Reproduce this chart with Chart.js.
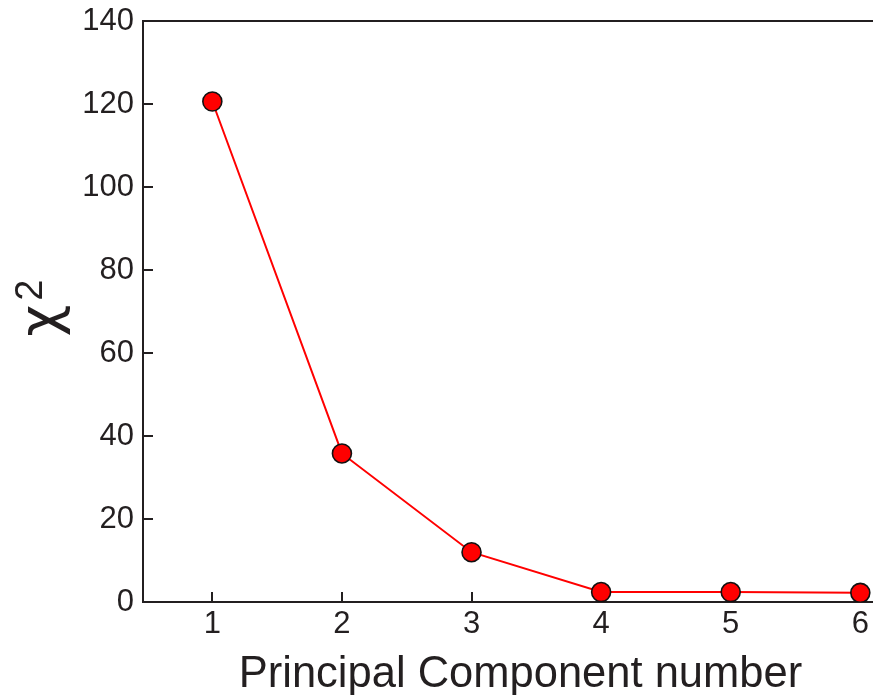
<!DOCTYPE html>
<html>
<head>
<meta charset="utf-8">
<script src="https://cdn.jsdelivr.net/npm/chart.js@4.4.1/dist/chart.umd.min.js"></script>
<style>
  html, body { margin: 0; padding: 0; background: #fff; overflow: hidden; }
  #wrap { width: 909px; height: 695px; }
</style>
</head>
<body>
<div id="wrap"><canvas id="chart"></canvas></div>
<script>
const components = [1, 2, 3, 4, 5, 6];
const chiSquared = [120.6, 35.8, 12.0, 2.4, 2.4, 2.2];
const xTicks = [1, 2, 3, 4, 5, 6];
const yTicks = [0, 20, 40, 60, 80, 100, 120, 140];

const ink = "#231f20";
const fontFamily = "'Liberation Sans', Arial, Helvetica, sans-serif";

// top frame line and the y axis title (chi with a raised 2, written upward)
const frameAndTitle = {
    id: "frameAndTitle",
    afterDraw(chart) {
        const ctx = chart.ctx;
        const area = chart.chartArea;
        ctx.save();
        ctx.strokeStyle = ink;
        ctx.lineWidth = 2;
        ctx.beginPath();
        ctx.moveTo(area.left - 1, area.top);
        ctx.lineTo(area.right, area.top);
        ctx.stroke();

        const midY = (area.top + area.bottom) / 2;
        ctx.fillStyle = ink;
        ctx.textBaseline = "alphabetic";
        ctx.textAlign = "left";
        ctx.translate(58, midY + 25);
        ctx.rotate(-Math.PI / 2);
        ctx.font = "55px 'DejaVu Sans'";
        ctx.fillText("χ", 0, 0);
        const w = ctx.measureText("χ").width;
        ctx.font = "38px " + fontFamily;
        ctx.fillText("2", w + 4, -16);
        ctx.restore();
    }
};

new Chart(document.getElementById("chart"), {
    type: "scatter",
    data: {
        datasets: [{
            data: components.map((c, i) => ({ x: c, y: chiSquared[i] })),
            showLine: true,
            borderColor: "#ff0000",
            borderWidth: 2,
            pointRadius: 9.5,
            pointBorderWidth: 1.6,
            pointBackgroundColor: "#ff0000",
            pointBorderColor: "#111111"
        }]
    },
    options: {
        responsive: true,
        maintainAspectRatio: false,
        animation: false,
        layout: { padding: { top: 21, right: 0, left: 0, bottom: 0 } },
        plugins: { legend: { display: false }, tooltip: { enabled: false } },
        scales: {
            x: {
                type: "linear",
                min: 0.465,
                max: 6.29,
                afterBuildTicks: s => { s.ticks = xTicks.map(v => ({ value: v })); },
                afterFit: s => { s.height = 93; s.paddingLeft = 0; s.paddingRight = 0; },
                grid: { drawOnChartArea: false, tickLength: -10, color: ink, lineWidth: 2 },
                border: { color: ink, width: 2 },
                ticks: { color: ink, padding: 14, font: { family: fontFamily, size: 31 } },
                title: {
                    display: true,
                    text: "Principal Component number",
                    color: ink,
                    padding: { top: 0, bottom: -6 },
                    font: { family: fontFamily, size: 43.5 }
                }
            },
            y: {
                min: 0,
                max: 140,
                afterBuildTicks: s => { s.ticks = yTicks.map(v => ({ value: v })); },
                afterFit: s => { s.width = 143; s.paddingTop = 0; s.paddingBottom = 0; },
                grid: { drawOnChartArea: false, tickLength: -10, color: ink, lineWidth: 2 },
                border: { color: ink, width: 2 },
                ticks: { color: ink, padding: 19, font: { family: fontFamily, size: 31 } }
            }
        }
    },
    plugins: [frameAndTitle]
});
</script>
</body>
</html>
